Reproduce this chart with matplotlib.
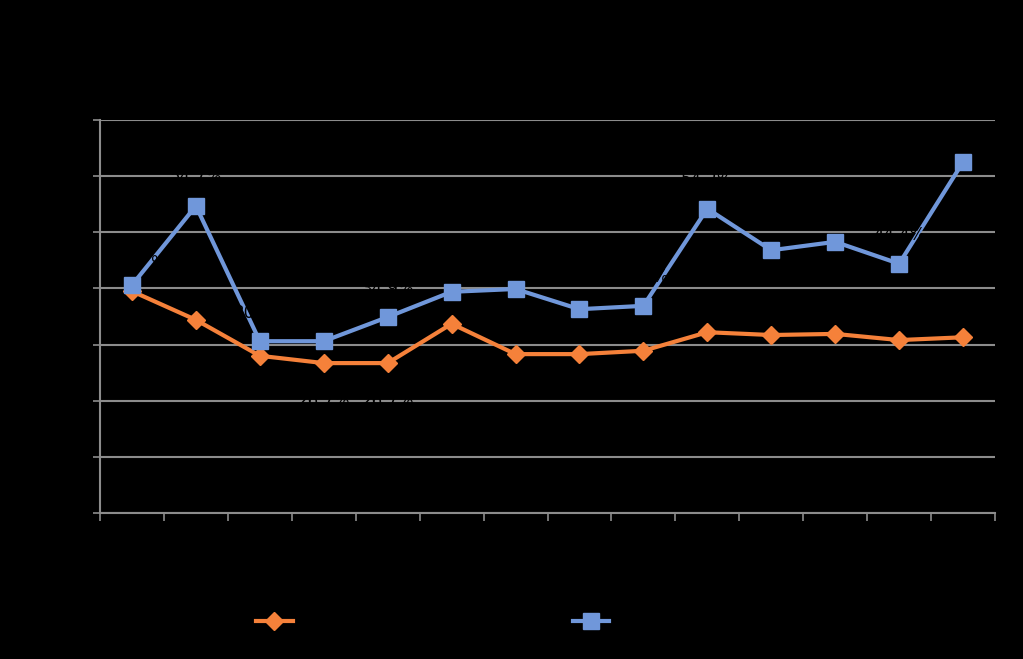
import matplotlib.pyplot as plt

years = ['2005', '2006', '2007', '2008', '2009', '2010', '2011',
         '2012', '2013', '2014', '2015', '2016', '2017', '2018']
series_a = [39.5, 34.4, 28.0, 26.7, 26.7, 33.7, 28.3, 28.3, 28.9, 32.2, 31.7, 31.9, 30.8, 31.3]
series_b = [40.6, 54.7, 30.6, 30.6, 34.9, 39.4, 39.9, 36.3, 36.9, 54.2, 46.8, 48.3, 44.4, 62.5]
name_a = 'Serie 1'
name_b = 'Serie 2'

fig = plt.figure(figsize=(10.23, 6.59), dpi=100, facecolor='black')
ax = fig.add_axes([100 / 1023, 146 / 659, 895 / 1023, 393 / 659])
ax.set_facecolor('black')

x = list(range(len(years)))
ax.plot(x, series_a, color='#F5813A', lw=3, marker='D', markersize=9,
        label=name_a, zorder=3)
ax.plot(x, series_b, color='#7097DA', lw=3, marker='s', markersize=12,
        label=name_b, zorder=4)

# data labels (black, like the original)
for i, v in enumerate(series_b):
    ax.annotate(f'{v:.1f}%', (i, v), xytext=(0, 14), textcoords='offset points',
                ha='center', va='bottom', color='black', fontsize=12, zorder=5)
for i, v in enumerate(series_a):
    ax.annotate(f'{v:.1f}%', (i, v), xytext=(0, -27), textcoords='offset points',
                ha='center', va='center', color='black', fontsize=12, zorder=5)

ax.set_xlim(-0.5, len(years) - 0.5)
ax.set_ylim(0, 70)
ax.set_yticks(range(0, 71, 10))
ax.set_yticklabels([f'{t}%' for t in range(0, 71, 10)], color='black', fontsize=12)
ax.set_xticks([i - 0.5 for i in range(len(years) + 1)])
ax.set_xticklabels([])
ax.set_xticks(x, minor=True)
ax.set_xticklabels(years, minor=True, color='black', fontsize=12)
ax.tick_params(axis='x', which='major', length=6, color='#8c8c8c', width=1.2)
ax.tick_params(axis='x', which='minor', length=0)
ax.tick_params(axis='y', length=5, color='#8c8c8c', width=1.2)
ax.grid(axis='y', color='#8c8c8c', lw=1.5, zorder=0)
ax.set_axisbelow(True)
for side in ['top', 'right']:
    ax.spines[side].set_visible(False)
for side in ['left', 'bottom']:
    ax.spines[side].set_color('#8c8c8c')
    ax.spines[side].set_linewidth(1.5)

ax.set_title('Evolución', color='black', fontsize=18, pad=30)
fig.legend(loc='lower center', bbox_to_anchor=(0.458, 0.02), ncol=2,
           frameon=False, fontsize=12, labelcolor='black',
           columnspacing=12.5, handlelength=2.2)

plt.savefig('out.png', facecolor='black')
plt.close()
